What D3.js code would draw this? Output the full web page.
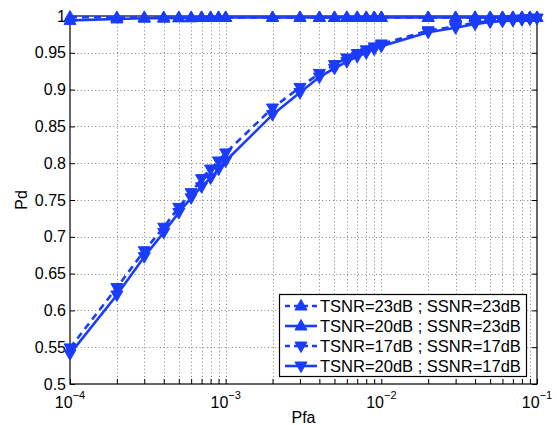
<!DOCTYPE html>
<html>
<head>
<meta charset="utf-8">
<script src="https://cdn.jsdelivr.net/npm/d3@7"></script>
<style>
  html, body { margin: 0; padding: 0; background: #fff; }
  svg { display: block; font-family: "Liberation Sans", Arial, Helvetica, sans-serif; }
</style>
</head>
<body>
<svg id="chart" width="557" height="425"></svg>
<script>
// False-alarm probabilities where each curve was evaluated
const pfa = [
  1e-4, 2e-4, 3e-4, 4e-4, 5e-4, 6e-4, 7e-4, 8e-4, 9e-4,
  1e-3, 2e-3, 3e-3, 4e-3, 5e-3, 6e-3, 7e-3, 8e-3, 9e-3,
  1e-2, 2e-2, 3e-2, 4e-2, 5e-2, 6e-2, 7e-2, 8e-2, 9e-2,
  1e-1
];

// Detection probability per configuration
const pdT23S23 = [
  0.9985, 0.998, 0.998, 0.998, 0.998, 0.998, 0.998, 0.998, 0.998,
  0.998, 0.998, 0.998, 0.998, 0.998, 0.998, 0.998, 0.998, 0.998,
  0.998, 0.998, 0.998, 0.998, 0.998, 0.998, 0.998, 0.998, 0.998,
  0.998
];
const pdT20S23 = [
  0.994, 0.996, 0.997, 0.997, 0.9975, 0.9975, 0.998, 0.998, 0.998,
  0.998, 0.998, 0.998, 0.998, 0.998, 0.998, 0.998, 0.998, 0.998,
  0.998, 0.998, 0.998, 0.998, 0.998, 0.998, 0.998, 0.998, 0.998,
  0.998
];
const pdT17S17 = [
  0.549, 0.631, 0.681, 0.713, 0.740, 0.760, 0.779, 0.792, 0.803,
  0.814, 0.875, 0.903, 0.922, 0.934, 0.943, 0.949, 0.954, 0.958,
  0.962, 0.980, 0.986, 0.991, 0.993, 0.994, 0.995, 0.996, 0.996,
  0.997
];
const pdT20S17 = [
  0.541, 0.621, 0.673, 0.706, 0.733, 0.753, 0.768, 0.780, 0.792,
  0.803, 0.866, 0.896, 0.917, 0.929, 0.938, 0.945, 0.950, 0.955,
  0.959, 0.978, 0.984, 0.989, 0.992, 0.993, 0.994, 0.995, 0.996,
  0.997
];

const seriesNames = [
  "TSNR=23dB ; SSNR=23dB",
  "TSNR=20dB ; SSNR=23dB",
  "TSNR=17dB ; SSNR=17dB",
  "TSNR=20dB ; SSNR=17dB"
];

// Axis ticks
const xMajorTicks = [1e-4, 1e-3, 1e-2, 1e-1];
const xMajorExponents = ["\u22124", "\u22123", "\u22122", "\u22121"];
const yTicks = [0.5, 0.55, 0.6, 0.65, 0.7, 0.75, 0.8, 0.85, 0.9, 0.95, 1];
const yTickLabels = ["0.5", "0.55", "0.6", "0.65", "0.7", "0.75", "0.8", "0.85", "0.9", "0.95", "1"];

const series = [
  { name: seriesNames[0], values: pdT23S23, dashed: true,  up: true },
  { name: seriesNames[1], values: pdT20S23, dashed: false, up: true },
  { name: seriesNames[2], values: pdT17S17, dashed: true,  up: false },
  { name: seriesNames[3], values: pdT20S17, dashed: false, up: false }
];

const blue = "#1a3cff";
const plotL = 70, plotR = 537, plotT = 16, plotB = 384;

const svg = d3.select("#chart");
const x = d3.scaleLog().domain([1e-4, 1e-1]).range([plotL, plotR]);
const y = d3.scaleLinear().domain([0.5, 1]).range([plotB, plotT]);

// Dotted grid
const grid = svg.append("g").attr("stroke", "#808080").attr("stroke-width", 1)
  .attr("stroke-dasharray", "1,2.6").attr("fill", "none");
pfa.filter(v => v > 1e-4 && v < 1e-1).forEach(v => {
  grid.append("line").attr("x1", Math.round(x(v)) + 0.5).attr("x2", Math.round(x(v)) + 0.5)
    .attr("y1", plotT).attr("y2", plotB);
});
yTicks.filter(v => v > 0.5 && v < 1).forEach(v => {
  grid.append("line").attr("y1", Math.round(y(v)) + 0.5).attr("y2", Math.round(y(v)) + 0.5)
    .attr("x1", plotL).attr("x2", plotR);
});

// Axes with inward ticks on all four sides
const tick = 5;
const yAxisLeft = d3.axisLeft(y).tickValues(yTicks).tickSize(-tick).tickPadding(4)
  .tickFormat((d, i) => yTickLabels[i]);
const gl = svg.append("g").attr("transform", `translate(${plotL},0)`).call(yAxisLeft);
gl.select(".domain").remove();
gl.selectAll("text").attr("font-size", 16).attr("fill", "#000")
  .attr("font-family", "Liberation Sans, Arial, sans-serif");
gl.selectAll("line").attr("stroke", "#000");

const yAxisRight = d3.axisRight(y).tickValues(yTicks).tickSize(-tick).tickFormat("");
const gr = svg.append("g").attr("transform", `translate(${plotR},0)`).call(yAxisRight);
gr.select(".domain").remove();
gr.selectAll("line").attr("stroke", "#000");

const xAxisBottom = d3.axisBottom(x).tickValues(pfa).tickSize(-tick).tickFormat("");
const gb = svg.append("g").attr("transform", `translate(0,${plotB})`).call(xAxisBottom);
gb.select(".domain").remove();
gb.selectAll("line").attr("stroke", "#000");

const xAxisTop = d3.axisTop(x).tickValues(pfa).tickSize(-tick).tickFormat("");
const gt = svg.append("g").attr("transform", `translate(0,${plotT})`).call(xAxisTop);
gt.select(".domain").remove();
gt.selectAll("line").attr("stroke", "#000");

// Frame
svg.append("rect").attr("x", plotL).attr("y", plotT).attr("width", plotR - plotL)
  .attr("height", plotB - plotT).attr("fill", "none").attr("stroke", "#000").attr("stroke-width", 1.2);

// Power-of-ten labels
const xl = svg.append("g").attr("fill", "#000");
xMajorTicks.forEach((v, i) => {
  const t = xl.append("text").attr("x", x(v)).attr("y", 408).attr("text-anchor", "middle")
    .attr("font-size", 16);
  t.append("tspan").text("10");
  t.append("tspan").attr("font-size", 11).attr("dy", -9).text(xMajorExponents[i]);
});

// Axis titles
svg.append("text").attr("x", (plotL + plotR) / 2).attr("y", 423).attr("text-anchor", "middle")
  .attr("font-size", 16).text("Pfa");
svg.append("text").attr("transform", `translate(27,${(plotT + plotB) / 2}) rotate(-90)`)
  .attr("text-anchor", "middle").attr("font-size", 16).text("Pd");

// Curves
const line = d3.line().x((d, i) => x(pfa[i])).y(d => y(d));
const triUp = "M0,-6.5L6,4L-6,4Z";
const triDown = "M0,6.5L6,-4L-6,-4Z";

series.forEach(s => {
  const g = svg.append("g");
  g.append("path").datum(s.values).attr("d", line).attr("fill", "none")
    .attr("stroke", blue).attr("stroke-width", 2.6)
    .attr("stroke-dasharray", s.dashed ? "7,5" : null);
  g.selectAll("path.m").data(s.values).join("path").attr("class", "m")
    .attr("transform", (d, i) => `translate(${x(pfa[i])},${y(d)})`)
    .attr("d", s.up ? triUp : triDown).attr("fill", blue).attr("stroke", blue).attr("stroke-width", 1);
});

// Legend
const lg = svg.append("g");
lg.append("rect").attr("x", 279.5).attr("y", 294.5).attr("width", 247).attr("height", 82)
  .attr("fill", "#fff").attr("stroke", "#000").attr("stroke-width", 1.2);
series.forEach((s, i) => {
  const cy = 306 + i * 20;
  lg.append("line").attr("x1", 285).attr("x2", 317).attr("y1", cy).attr("y2", cy)
    .attr("stroke", blue).attr("stroke-width", 2.6)
    .attr("stroke-dasharray", s.dashed ? "5,4" : null);
  lg.append("path").attr("transform", `translate(301,${cy})`).attr("d", s.up ? triUp : triDown)
    .attr("fill", blue).attr("stroke", blue);
  lg.append("text").attr("x", 320).attr("y", cy + 6).attr("font-size", 16.5).text(s.name);
});
</script>
</body>
</html>
